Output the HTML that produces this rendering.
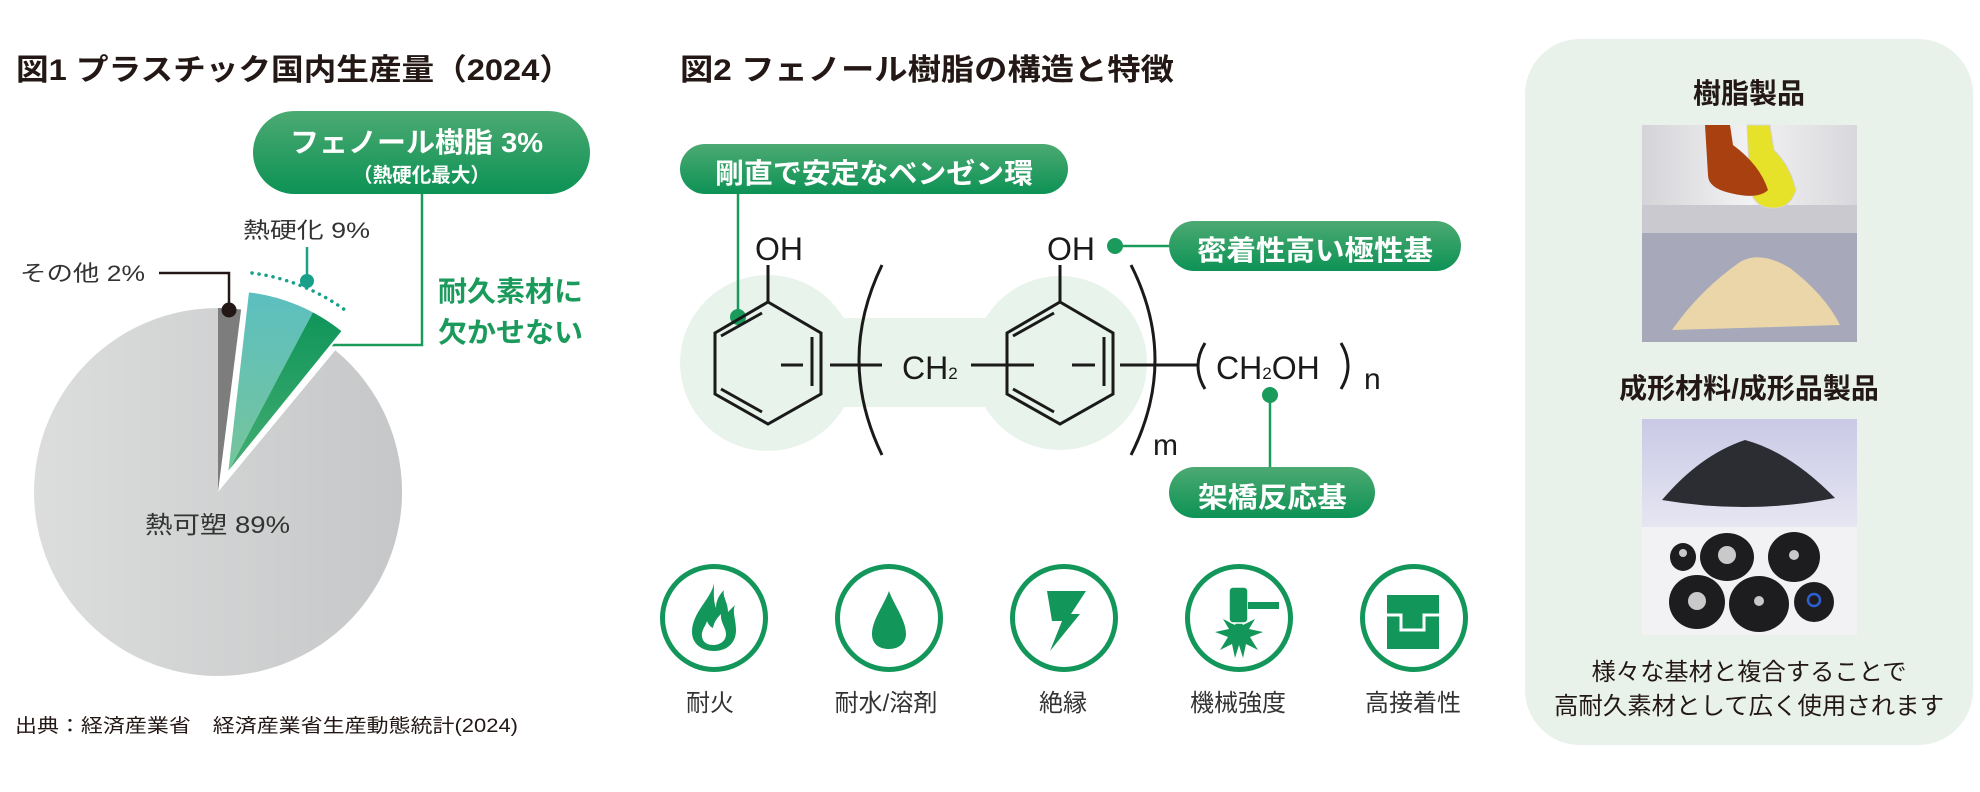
<!DOCTYPE html>
<html><head><meta charset="utf-8"><style>
html,body{margin:0;padding:0;background:#fff;}
svg{display:block;}
text{font-family:"Liberation Sans","Noto Sans CJK JP",sans-serif;}
</style></head><body>
<svg width="1980" height="792" viewBox="0 0 1980 792" xmlns="http://www.w3.org/2000/svg">
<defs>
<linearGradient id="pill" x1="0" y1="0" x2="0" y2="1"><stop offset="0" stop-color="#4caa72"/><stop offset="1" stop-color="#0d9255"/></linearGradient>
<linearGradient id="gray" x1="0" y1="0" x2="1" y2="0"><stop offset="0" stop-color="#dcdddd"/><stop offset="1" stop-color="#c6c7c8"/></linearGradient>
<linearGradient id="teal" x1="0" y1="0" x2="0" y2="1"><stop offset="0" stop-color="#5cbfc0"/><stop offset="1" stop-color="#76c59a"/></linearGradient>
<linearGradient id="grn" x1="0" y1="0" x2="0" y2="1"><stop offset="0" stop-color="#0f955a"/><stop offset="1" stop-color="#45ad72"/></linearGradient>
<linearGradient id="p1" x1="0" y1="0" x2="1" y2="0"><stop offset="0" stop-color="#d4d4d8"/><stop offset=".5" stop-color="#f2f2f4"/><stop offset="1" stop-color="#d8d8dc"/></linearGradient>
<linearGradient id="p3" x1="0" y1="0" x2="0" y2="1"><stop offset="0" stop-color="#c9c9e6"/><stop offset="1" stop-color="#e6e6f2"/></linearGradient>
</defs>

<!-- FIG 1 -->
<text x="16" y="80" font-size="30" font-weight="bold" fill="#231815" textLength="556" lengthAdjust="spacingAndGlyphs">図1 プラスチック国内生産量（2024）</text>
<rect x="253" y="111" width="337" height="83" rx="41.5" fill="url(#pill)"/>
<text x="290" y="152" font-size="28" fill="#fff" font-weight="bold" textLength="253" lengthAdjust="spacingAndGlyphs">フェノール樹脂 3%</text>
<text x="353" y="182" font-size="20" fill="#fff" font-weight="bold" textLength="137" lengthAdjust="spacingAndGlyphs">（熱硬化最大）</text>
<polyline points="422,194 422,345 332,345" fill="none" stroke="#1a9a5b" stroke-width="2.5"/>
<text x="438" y="301" font-size="28" fill="#1a9a5b" font-weight="bold" textLength="145" lengthAdjust="spacingAndGlyphs">耐久素材に</text>
<text x="438" y="342" font-size="28" fill="#1a9a5b" font-weight="bold" textLength="145" lengthAdjust="spacingAndGlyphs">欠かせない</text>

<path d="M218,492 L335.3,350.2 A184,184 0 1 1 218,308 Z" fill="url(#gray)"/>
<path d="M218,492 L218,308 A184,184 0 0 1 241.1,309.5 Z" fill="#7d7d7d"/>
<path d="M227,474 L248.1,291.2 A184,184 0 0 1 313.4,311.5 Z" fill="url(#teal)"/>
<path d="M227,474 L313.4,311.5 A184,184 0 0 1 342.8,331 Z" fill="url(#grn)"/>
<path d="M227,474 L248.1,291.2 A184,184 0 0 1 342.8,331 Z" fill="none" stroke="#fff" stroke-width="2"/>

<path d="M252,273 A202,202 0 0 1 349,313" fill="none" stroke="#19a08a" stroke-width="3.5" stroke-dasharray="0.1 7" stroke-linecap="round"/>
<line x1="307" y1="247" x2="307" y2="281" stroke="#19a08a" stroke-width="2.5"/>
<circle cx="307" cy="281" r="7" fill="#19a08a"/>
<text x="243" y="238" font-size="22" fill="#333" textLength="127" lengthAdjust="spacingAndGlyphs">熱硬化 9%</text>
<polyline points="159,273 229,273 229,310" fill="none" stroke="#231815" stroke-width="2.5"/>
<circle cx="229" cy="310" r="7.5" fill="#231815"/>
<text x="20" y="281" font-size="22" fill="#333" textLength="125" lengthAdjust="spacingAndGlyphs">その他 2%</text>
<text x="145" y="533" font-size="24" fill="#333" textLength="145" lengthAdjust="spacingAndGlyphs">熱可塑 89%</text>
<text x="15" y="732" font-size="19" fill="#231815" textLength="503" lengthAdjust="spacingAndGlyphs">出典：経済産業省　経済産業省生産動態統計(2024)</text>

<!-- FIG 2 -->
<text x="680" y="80" font-size="30" font-weight="bold" fill="#231815" textLength="494" lengthAdjust="spacingAndGlyphs">図2 フェノール樹脂の構造と特徴</text>
<g fill="#e8f3ec">
<circle cx="768" cy="363" r="88"/><circle cx="1060" cy="363" r="87"/>
<rect x="768" y="318" width="292" height="89"/>
</g>
<rect x="680" y="144" width="388" height="50" rx="25" fill="url(#pill)"/>
<text x="715" y="183" font-size="28" fill="#fff" font-weight="bold" textLength="318" lengthAdjust="spacingAndGlyphs">剛直で安定なベンゼン環</text>
<rect x="1169" y="221" width="292" height="50" rx="25" fill="url(#pill)"/>
<text x="1197" y="260" font-size="28" fill="#fff" font-weight="bold" textLength="236" lengthAdjust="spacingAndGlyphs">密着性高い極性基</text>
<rect x="1169" y="467" width="206" height="51" rx="25.5" fill="url(#pill)"/>
<text x="1198" y="507" font-size="28" fill="#fff" font-weight="bold" textLength="149" lengthAdjust="spacingAndGlyphs">架橋反応基</text>

<g stroke="#1a9a5b" stroke-width="2.5" fill="#1a9a5b">
<line x1="738" y1="194" x2="738" y2="317"/><circle cx="738" cy="317" r="8" stroke="none"/>
<line x1="1115" y1="246" x2="1169" y2="246"/><circle cx="1115" cy="246" r="8" stroke="none"/>
<line x1="1270" y1="395" x2="1270" y2="467"/><circle cx="1270" cy="395" r="8" stroke="none"/>
</g>

<g fill="none" stroke="#1a1a1a" stroke-width="3">
<polygon points="768,302 821,333 821,394 768,424 715,394 715,333"/>
<line x1="721" y1="336" x2="762" y2="313"/><line x1="721" y1="389" x2="762" y2="412"/><line x1="812" y1="337" x2="812" y2="386"/>
<polygon points="1060,302 1113,333 1113,394 1060,424 1007,394 1007,333"/>
<line x1="1013" y1="336" x2="1054" y2="313"/><line x1="1013" y1="389" x2="1054" y2="412"/><line x1="1104" y1="337" x2="1104" y2="386"/>
<line x1="768" y1="265" x2="768" y2="302"/><line x1="1060" y1="265" x2="1060" y2="302"/>
<line x1="781" y1="365" x2="803" y2="365"/><line x1="830" y1="365" x2="882" y2="365"/>
<line x1="971" y1="365" x2="1034" y2="365"/><line x1="1072" y1="365" x2="1095" y2="365"/>
<line x1="1120" y1="365" x2="1198" y2="365"/>
<path d="M882,265 Q836,360 882,455"/><path d="M1131,265 Q1179,360 1131,455"/>
<path d="M1205,343 Q1191,366 1205,389"/><path d="M1341,343 Q1355,366 1341,389"/>
</g>
<g fill="#1a1a1a" font-size="32">
<text x="755" y="260">OH</text><text x="1047" y="260">OH</text>
<text x="902" y="379">CH<tspan font-size="17">2</tspan></text>
<text x="1216" y="379">CH<tspan font-size="17">2</tspan>OH</text>
<text x="1153" y="455" font-size="30">m</text><text x="1364" y="389" font-size="30">n</text>
</g>

<!-- icons -->
<g fill="none" stroke="#13965a" stroke-width="5">
<circle cx="714" cy="618" r="51.5"/><circle cx="889" cy="618" r="51.5"/><circle cx="1064" cy="618" r="51.5"/><circle cx="1239" cy="618" r="51.5"/><circle cx="1414" cy="618" r="51.5"/>
</g>
<g fill="#13965a">
<path d="M714,583 C712,598 692,612 692,632 C692,644 702,651 714,651 C727,651 736,643 736,630 C736,620 732,612 735,605 L728,612 C728,602 722,596 724,590 C718,596 716,602 716,608 C713,600 714,592 714,583 Z"/>
<path d="M713,645 C705,645 701,640 702,633 C703,628 706,625 707,621 C709,626 711,627 713,628 C714,622 717,618 721,614 C720,622 726,628 726,634 C726,641 720,645 713,645 Z" fill="#fff"/>
<path d="M889,591 C884,605 872,620 872,634 C872,644 879,649 889,649 C899,649 906,643 906,634 C906,620 894,605 889,591 Z"/>
<path d="M1047,591 L1086,591 L1071,614 L1080,614 L1050,651 L1062,621 L1052,621 Z"/>
<path d="M1239,618 l4,7 l12,-6 l-6,10 l14,3 l-13,5 l8,13 l-12,-6 l-3,14 l-4,-13 l-4,13 l-3,-14 l-12,6 l8,-13 l-13,-5 l14,-3 l-6,-10 l12,6 Z"/>
<rect x="1229" y="587" width="19" height="36" rx="4" stroke="#fff" stroke-width="1.5"/>
<rect x="1248" y="602" width="31" height="7"/>
<rect x="1387" y="595" width="52" height="54"/>
<polyline points="1386,615 1401,615 1401,630 1424,630 1424,615 1440,615" fill="none" stroke="#fff" stroke-width="3"/>
</g>
<g fill="#333" font-size="24">
<text x="710" y="711" text-anchor="middle">耐火</text>
<text x="886" y="711" text-anchor="middle">耐水/溶剤</text>
<text x="1063" y="711" text-anchor="middle">絶縁</text>
<text x="1238" y="711" text-anchor="middle">機械強度</text>
<text x="1413" y="711" text-anchor="middle">高接着性</text>
</g>

<!-- right panel -->
<rect x="1525" y="39" width="448" height="706" rx="55" fill="#e8f2ea"/>
<text x="1749" y="103" font-size="28" font-weight="bold" fill="#231815" text-anchor="middle">樹脂製品</text>
<rect x="1642" y="125" width="215" height="108" fill="url(#p1)"/>
<rect x="1642" y="205" width="215" height="28" fill="#c9c9cf"/>
<path d="M1747,125 L1770,125 L1774,150 Q1790,165 1796,190 Q1790,210 1770,208 Q1755,207 1750,190 Z" fill="#e6e22a" stroke="#d5d5d5" stroke-width="1"/>
<path d="M1705,125 L1730,125 L1733,145 Q1760,165 1768,190 Q1758,200 1730,193 Q1708,188 1708,175 Z" fill="#a8400f"/>
<rect x="1642" y="233" width="215" height="109" fill="#a7a9bb"/>
<path d="M1672,330 Q1700,290 1740,262 Q1760,250 1790,268 Q1825,295 1840,325 Z" fill="#ead6a8"/>
<text x="1749" y="398" font-size="28" font-weight="bold" fill="#231815" text-anchor="middle">成形材料/成形品製品</text>
<rect x="1642" y="419" width="215" height="108" fill="url(#p3)"/>
<path d="M1662,500 Q1700,455 1745,440 Q1790,452 1835,498 Q1750,515 1662,500 Z" fill="#2c2d33"/>
<rect x="1642" y="527" width="215" height="108" fill="#f2f2f4"/>
<g fill="#1d1d20">
<ellipse cx="1683" cy="557" rx="13" ry="14"/><ellipse cx="1727" cy="557" rx="27" ry="24"/><ellipse cx="1794" cy="557" rx="26" ry="25"/>
<ellipse cx="1697" cy="602" rx="28" ry="27"/><ellipse cx="1759" cy="604" rx="30" ry="28"/><ellipse cx="1814" cy="602" rx="20" ry="20"/>
</g>
<g fill="#c9c9c9"><circle cx="1683" cy="553" r="4"/><circle cx="1727" cy="555" r="9"/><circle cx="1794" cy="555" r="5"/><circle cx="1697" cy="601" r="9"/><circle cx="1759" cy="601" r="5"/></g>
<circle cx="1814" cy="600" r="6" fill="none" stroke="#2d5fd0" stroke-width="2.5"/>
<text x="1749" y="680" font-size="24" fill="#231815" text-anchor="middle" textLength="315" lengthAdjust="spacingAndGlyphs">様々な基材と複合することで</text>
<text x="1749" y="714" font-size="24" fill="#231815" text-anchor="middle" textLength="390" lengthAdjust="spacingAndGlyphs">高耐久素材として広く使用されます</text>
</svg>
</body></html>
